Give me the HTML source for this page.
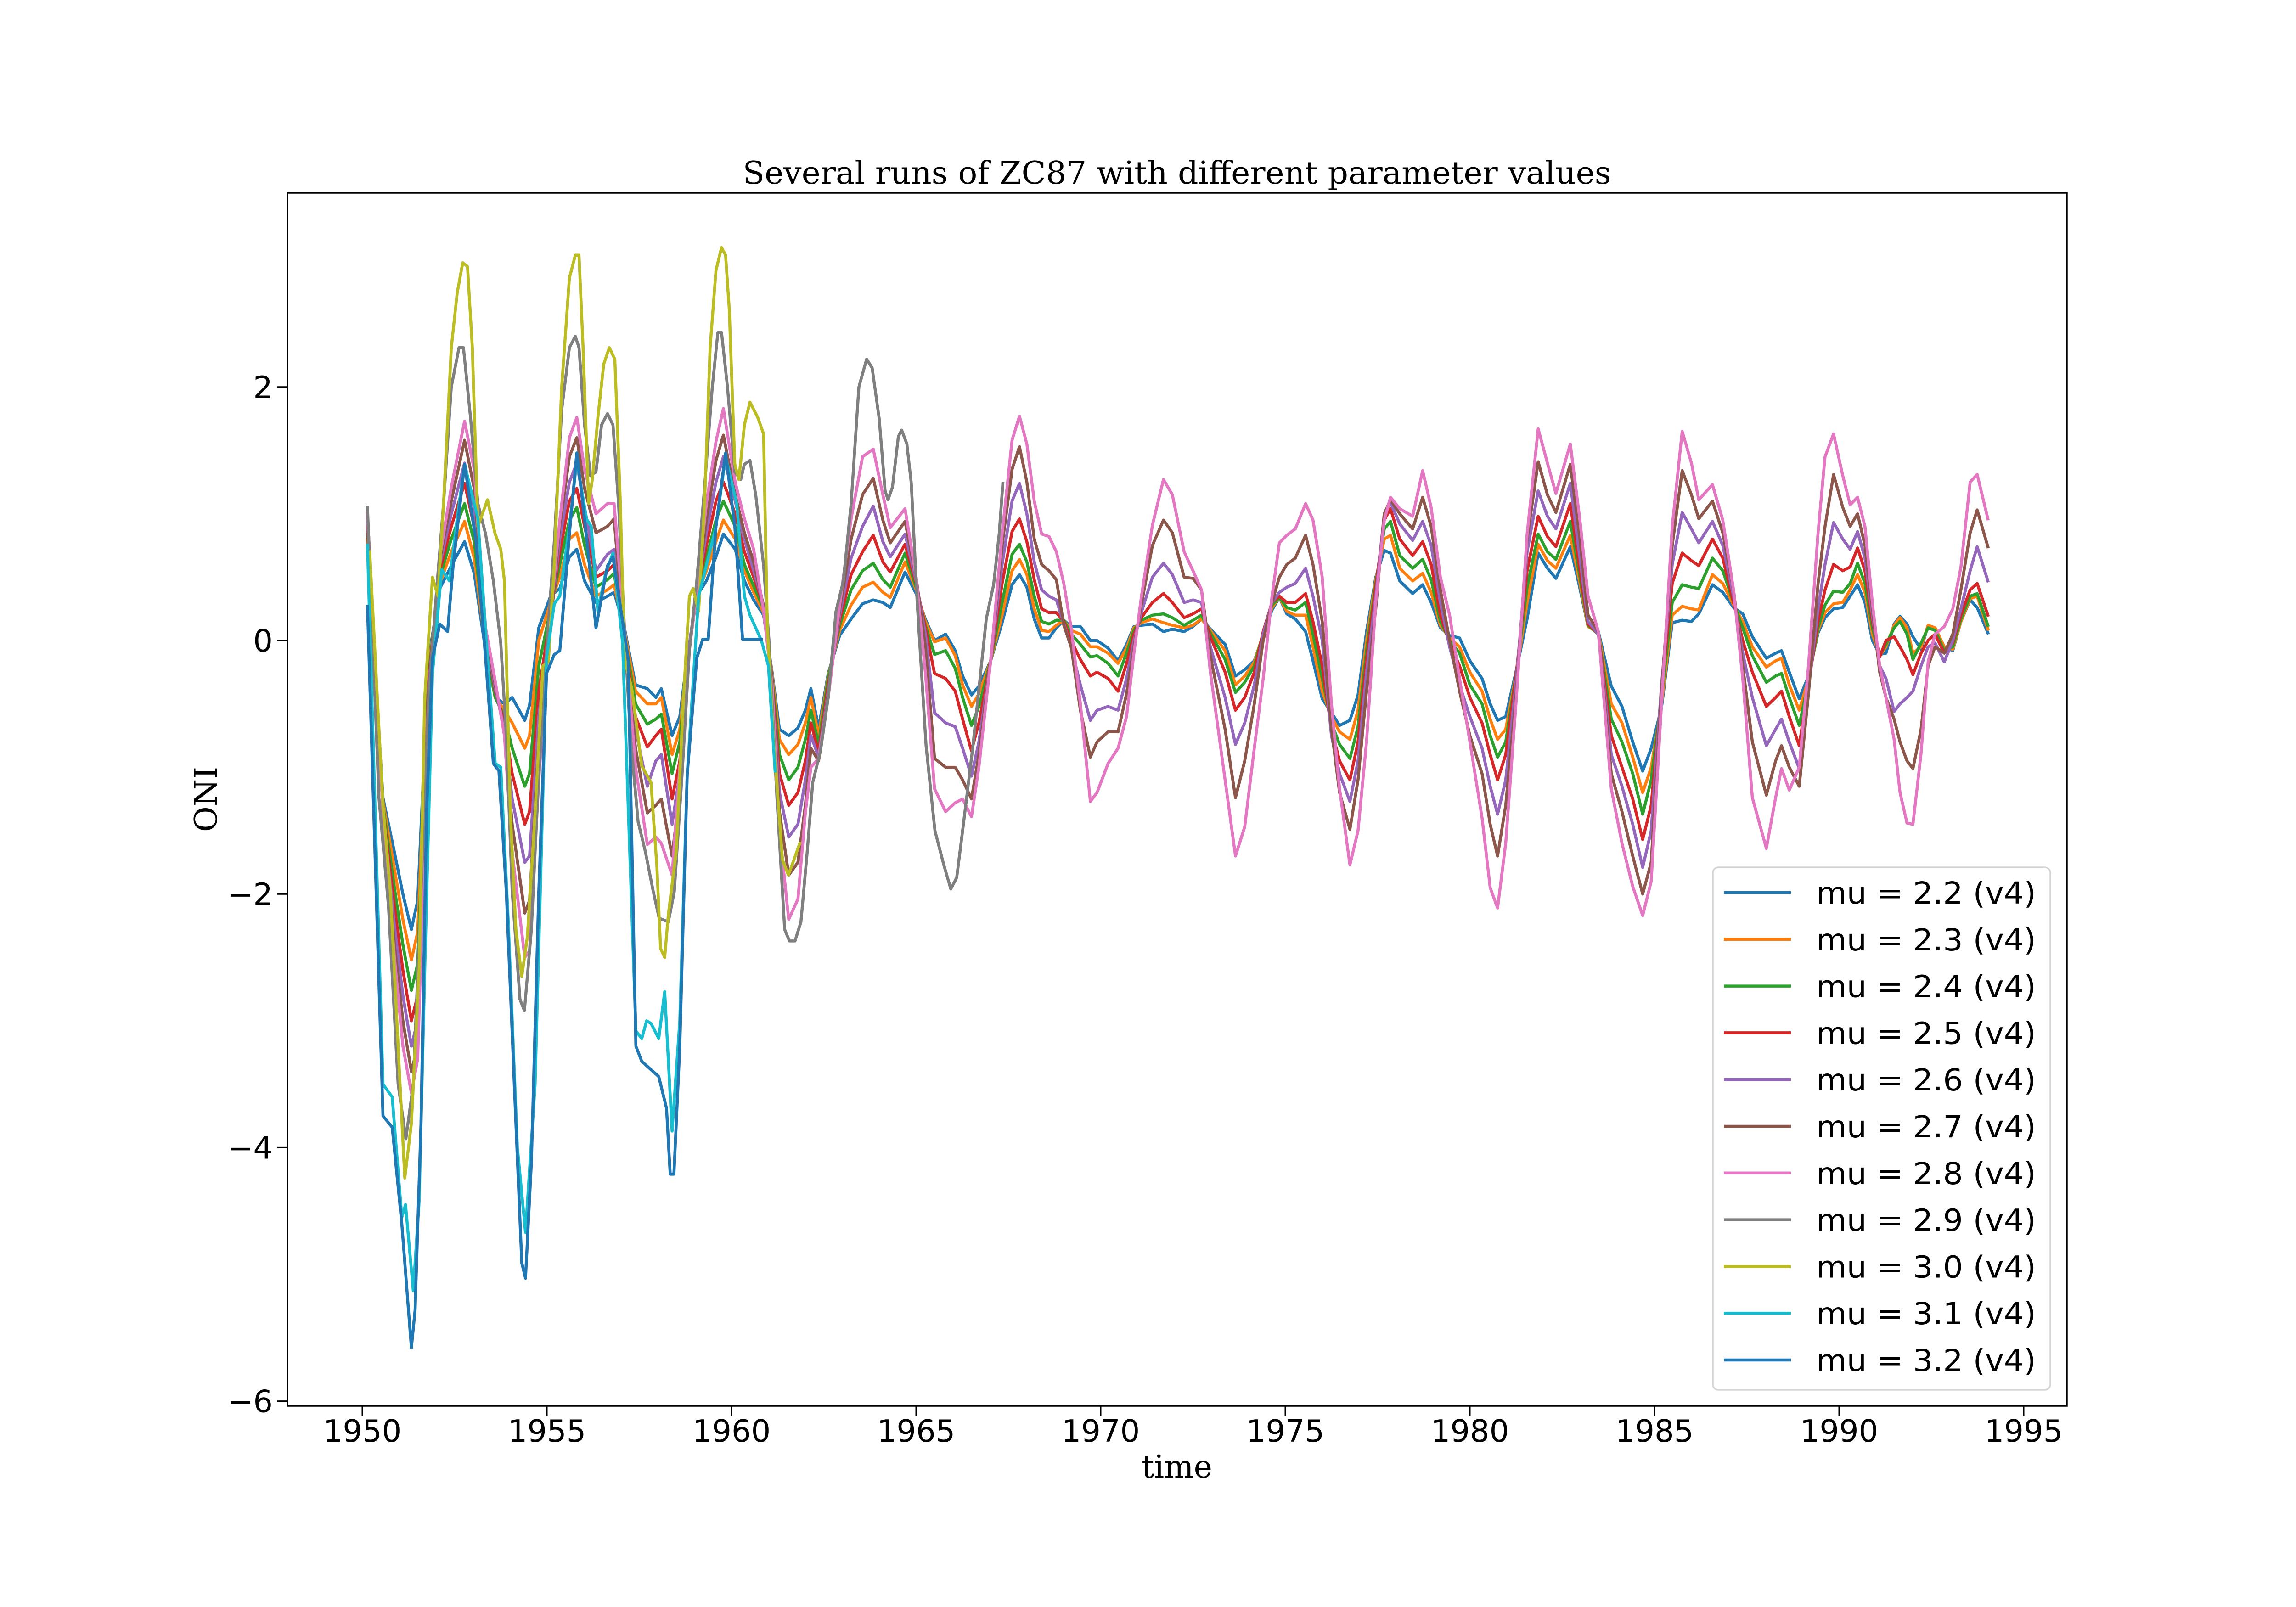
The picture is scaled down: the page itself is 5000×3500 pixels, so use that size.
<!DOCTYPE html>
<html><head><meta charset="utf-8"><title>Several runs of ZC87</title>
<style>html,body{margin:0;padding:0;background:#fff}svg{display:block}</style></head>
<body>
<svg id="chart" xmlns="http://www.w3.org/2000/svg" width="5000" height="3500" viewBox="0 0 5000 3500">
<rect x="0" y="0" width="5000" height="3500" fill="#fff"/>
<defs><clipPath id="plotclip"><rect x="626" y="420" width="3875" height="2642"/></clipPath></defs>
<text x="2563" y="400" text-anchor="middle" font-family="'DejaVu Serif','Liberation Serif',serif" font-size="68" textLength="1891" lengthAdjust="spacingAndGlyphs">Several runs of ZC87 with different parameter values</text>
<g id="plot" clip-path="url(#plotclip)"></g>
<rect x="626" y="420" width="3875" height="2642" fill="none" stroke="#000" stroke-width="3.5"/>
<g id="xticks"></g>
<g id="yticks"></g>
<text x="2563" y="3218" text-anchor="middle" font-family="'DejaVu Serif','Liberation Serif',serif" font-size="68">time</text>
<text x="0" y="0" transform="translate(472,1741) rotate(-90)" text-anchor="middle" font-family="'DejaVu Serif','Liberation Serif',serif" font-size="68">ONI</text>
<g id="legend"></g>
</svg>
<script>
const NS="http://www.w3.org/2000/svg";
const xTicks=[1950,1955,1960,1965,1970,1975,1980,1985,1990,1995];
const yTicks=[-6,-4,-2,0,2];
const seriesLabels=["mu = 2.2 (v4)","mu = 2.3 (v4)","mu = 2.4 (v4)","mu = 2.5 (v4)","mu = 2.6 (v4)","mu = 2.7 (v4)","mu = 2.8 (v4)","mu = 2.9 (v4)","mu = 3.0 (v4)","mu = 3.1 (v4)","mu = 3.2 (v4)"];
const seriesColors=["#1f77b4","#ff7f0e","#2ca02c","#d62728","#9467bd","#8c564b","#e377c2","#7f7f7f","#bcbd22","#17becf","#1f77b4"];
const tMain=[1950.14,1950.56,1950.87,1951.1,1951.33,1951.5,1951.8,1952.1,1952.41,1952.77,
1953.03,1953.34,1953.6,1953.85,1954.06,1954.4,1954.53,1954.78,1955.1,1955.35,
1955.61,1955.81,1956.02,1956.33,1956.64,1956.82,1957.1,1957.4,1957.72,1957.95,
1958.1,1958.39,1958.6,1958.8,1959.06,1959.32,1959.58,1959.78,1960.1,1960.35,
1960.6,1960.87,1961.1,1961.3,1961.55,1961.8,1962.0,1962.15,1962.36,1962.62,
1962.93,1963.24,1963.55,1963.84,1964.1,1964.3,1964.7,1965.0,1965.25,1965.5,
1965.8,1966.06,1966.26,1966.5,1966.7,1967.02,1967.33,1967.6,1967.8,1968.0,
1968.2,1968.4,1968.6,1968.8,1969.0,1969.2,1969.45,1969.72,1969.9,1970.2,
1970.47,1970.7,1970.9,1971.1,1971.4,1971.7,1971.94,1972.26,1972.5,1972.73,
1972.97,1973.37,1973.65,1973.9,1974.16,1974.4,1974.64,1974.84,1975.04,1975.27,
1975.55,1975.75,1976.0,1976.25,1976.47,1976.75,1976.97,1977.2,1977.45,1977.68,
1977.85,1978.1,1978.45,1978.72,1978.95,1979.2,1979.45,1979.72,1980.0,1980.33,
1980.55,1980.75,1980.97,1981.26,1981.55,1981.85,1982.1,1982.33,1982.72,1982.98,
1983.2,1983.48,1983.83,1984.12,1984.41,1984.68,1984.91,1985.19,1985.48,1985.75,
1986.0,1986.2,1986.57,1986.85,1987.14,1987.39,1987.65,1988.03,1988.28,1988.44,
1988.65,1988.92,1989.17,1989.43,1989.62,1989.85,1990.1,1990.3,1990.5,1990.7,
1990.9,1991.1,1991.27,1991.49,1991.65,1991.84,1992.0,1992.22,1992.41,1992.6,
1992.85,1993.08,1993.3,1993.55,1993.74,1994.03];
const s22=[.75,-1.24,-1.67,-2.0,-2.28,-2.05,-.14,.41,.59,.78,
.53,-.08,-.45,-.5,-.45,-.63,-.51,.1,.35,.41,
.66,.72,.47,.3,.35,.38,.1,-.35,-.38,-.45,
-.38,-.75,-.6,-.14,.35,.47,.66,.84,.72,.47,
.32,.2,-.25,-.7,-.75,-.69,-.55,-.38,-.69,-.26,
.04,.17,.29,.32,.3,.26,.54,.37,.17,0,
.05,-.08,-.28,-.43,-.36,-.16,.14,.44,.52,.42,
.17,.02,.02,.1,.16,.11,.11,0,0,-.06,
-.16,-.03,.11,.12,.13,.07,.09,.07,.11,.17,
.09,-.03,-.28,-.23,-.16,.04,.24,.34,.21,.17,
.07,-.16,-.46,-.57,-.67,-.63,-.43,.07,.5,.71,
.69,.47,.37,.44,.3,.1,.04,.02,-.16,-.3,
-.5,-.63,-.6,-.23,.17,.69,.57,.49,.74,.41,
.11,.07,-.36,-.52,-.8,-1.03,-.85,-.53,.14,.16,
.15,.21,.44,.38,.26,.21,.03,-.14,-.1,-.08,
-.25,-.46,-.28,.06,.18,.25,.26,.35,.44,.3,
0,-.11,-.1,.13,.19,.13,.03,-.07,.12,.1,
-.05,-.08,.15,.32,.26,.06];
const s23=[.8,-1.27,-1.8,-2.2,-2.52,-2.3,-.2,.45,.7,.94,
.65,-.05,-.45,-.55,-.65,-.85,-.75,0,.3,.5,
.8,.85,.6,.35,.4,.44,.08,-.4,-.5,-.5,
-.45,-.9,-.7,-.15,.35,.55,.78,.95,.8,.55,
.38,.22,-.27,-.78,-.9,-.82,-.65,-.45,-.75,-.28,
.08,.28,.42,.46,.38,.34,.62,.4,.15,-.01,
.02,-.12,-.35,-.52,-.42,-.16,.2,.55,.64,.52,
.25,.08,.07,.12,.16,.08,.05,-.05,-.05,-.1,
-.18,-.06,.1,.14,.17,.14,.12,.1,.12,.17,
.08,-.08,-.35,-.28,-.17,.05,.26,.34,.23,.2,
.2,-.05,-.4,-.6,-.72,-.78,-.55,0,.48,.8,
.83,.57,.47,.53,.38,.12,.02,-.05,-.25,-.4,
-.62,-.78,-.7,-.25,.3,.76,.63,.57,.83,.45,
.11,.06,-.5,-.65,-.92,-1.2,-1.0,-.5,.2,.27,
.25,.24,.52,.45,.28,.15,-.05,-.21,-.16,-.14,
-.35,-.55,-.3,.08,.22,.29,.3,.4,.52,.38,
.05,-.12,-.05,.12,.18,.1,-.1,-.05,.12,.1,
-.05,-.07,.15,.33,.35,.09];
const s24=[.85,-1.3,-1.95,-2.4,-2.76,-2.55,-.25,.5,.8,1.08,
.78,-.02,-.45,-.6,-.85,-1.15,-1.05,-.2,.25,.6,
.95,1.05,.75,.42,.48,.53,.05,-.5,-.66,-.62,
-.58,-1.05,-.8,-.15,.35,.65,.95,1.1,.9,.6,
.43,.25,-.3,-.9,-1.1,-1.0,-.78,-.55,-.82,-.3,
.12,.4,.55,.61,.48,.42,.69,.42,.12,-.11,
-.08,-.22,-.45,-.67,-.52,-.16,.3,.68,.76,.62,
.35,.15,.13,.16,.16,.05,-.03,-.13,-.12,-.18,
-.28,-.1,.08,.16,.2,.21,.18,.12,.16,.2,
.06,-.15,-.41,-.33,-.2,.06,.28,.34,.26,.24,
.3,.05,-.3,-.65,-.82,-.93,-.68,-.08,.45,.88,
.94,.67,.57,.64,.48,.15,0,-.1,-.35,-.5,
-.75,-.92,-.8,-.25,.42,.84,.7,.64,.94,.5,
.12,.05,-.62,-.8,-1.05,-1.37,-1.1,-.45,.3,.44,
.42,.41,.65,.55,.3,.1,-.12,-.33,-.28,-.26,
-.45,-.67,-.32,.1,.28,.39,.38,.45,.61,.45,
.1,-.12,-.03,.1,.15,.05,-.15,-.02,.1,.08,
-.08,-.05,.17,.35,.37,.12];
const s25=[.9,-1.32,-2.1,-2.6,-3.0,-2.8,-.3,.55,.9,1.24,
.9,.02,-.4,-.65,-1.05,-1.45,-1.35,-.4,.2,.7,
1.1,1.2,.9,.5,.55,.6,.02,-.6,-.84,-.75,
-.7,-1.25,-.95,-.15,.37,.75,1.1,1.25,1.0,.7,
.5,.27,-.32,-1.05,-1.3,-1.2,-.95,-.65,-.88,-.35,
.16,.52,.7,.83,.62,.54,.76,.45,.1,-.26,
-.3,-.4,-.62,-.87,-.65,-.16,.45,.86,.96,.78,
.48,.25,.22,.22,.15,0,-.15,-.28,-.25,-.3,
-.4,-.18,.05,.18,.3,.37,.3,.18,.21,.25,
.03,-.25,-.55,-.45,-.25,.07,.3,.35,.3,.3,
.37,.15,-.2,-.7,-.95,-1.1,-.8,-.15,.42,.95,
1.04,.8,.67,.78,.6,.2,-.02,-.2,-.45,-.65,
-.9,-1.1,-.9,-.25,.55,.98,.82,.74,1.08,.55,
.13,.05,-.75,-1.0,-1.25,-1.57,-1.3,-.4,.45,.69,
.63,.59,.8,.65,.3,0,-.25,-.52,-.45,-.4,
-.6,-.83,-.35,.15,.4,.6,.55,.58,.73,.55,
.15,-.13,0,.03,-.05,-.15,-.27,-.1,0,.05,
-.1,-.02,.2,.4,.45,.2];
const s26=[.95,-1.34,-2.25,-2.8,-3.2,-3.0,-.35,.6,1.0,1.4,
1.05,.05,-.38,-.7,-1.25,-1.75,-1.7,-.6,.15,.8,
1.25,1.4,1.05,.55,.68,.72,0,-.7,-1.15,-.95,
-.9,-1.45,-1.05,-.15,.38,.85,1.25,1.45,1.1,.8,
.55,.28,-.34,-1.2,-1.55,-1.45,-1.1,-.75,-.92,-.4,
.2,.65,.9,1.06,.78,.66,.84,.47,.05,-.57,
-.65,-.68,-.85,-1.07,-.8,-.16,.6,1.1,1.24,1.0,
.62,.4,.35,.32,.13,-.05,-.35,-.63,-.55,-.52,
-.55,-.3,0,.22,.5,.61,.52,.3,.32,.3,
-.05,-.45,-.82,-.65,-.35,.05,.3,.38,.42,.45,
.57,.35,0,-.75,-1.05,-1.27,-.95,-.25,.35,1.0,
1.09,.92,.79,.94,.75,.3,-.05,-.35,-.6,-.85,
-1.15,-1.37,-1.1,-.3,.7,1.18,.98,.88,1.24,.65,
.15,.05,-.9,-1.15,-1.45,-1.79,-1.5,-.35,.6,1.01,
.88,.77,.94,.75,.35,-.1,-.45,-.83,-.7,-.62,
-.8,-1.01,-.38,.25,.6,.93,.8,.72,.86,.65,
.2,-.2,-.3,-.56,-.5,-.45,-.4,-.2,-.05,-.02,
-.17,0,.25,.55,.74,.47];
const s27=[1.0,-1.35,-2.4,-3.0,-3.4,-3.2,-.4,.64,1.1,1.58,
1.2,.08,-.35,-.73,-1.45,-2.15,-2.05,-.8,.12,.9,
1.45,1.6,1.2,.85,.9,.96,0,-.85,-1.36,-1.3,
-1.25,-1.7,-1.2,-.2,.38,.95,1.42,1.62,1.15,.85,
.62,.27,-.3,-1.35,-1.85,-1.75,-1.3,-.85,-.95,-.42,
.24,.8,1.15,1.28,.95,.77,.94,.5,-.05,-.93,
-1.0,-1.0,-1.1,-1.25,-.9,-.16,.75,1.35,1.53,1.25,
.8,.6,.55,.48,.12,-.05,-.55,-.92,-.8,-.72,
-.72,-.42,-.05,.28,.75,.95,.85,.5,.49,.4,
-.12,-.7,-1.24,-.95,-.5,0,.3,.5,.6,.65,
.83,.6,.15,-.7,-1.2,-1.49,-1.1,-.4,.25,1.0,
1.11,1.0,.88,1.13,.9,.4,0,-.4,-.75,-1.05,
-1.45,-1.7,-1.3,-.4,.8,1.41,1.15,1.01,1.39,.8,
.2,.07,-1.05,-1.35,-1.7,-2.0,-1.75,-.4,.75,1.34,
1.15,.96,1.1,.85,.4,-.2,-.8,-1.22,-.95,-.83,
-1.0,-1.15,-.42,.45,.9,1.31,1.05,.9,1.0,.75,
.25,-.25,-.45,-.62,-.8,-.95,-1.01,-.7,-.2,-.05,
-.1,.05,.4,.85,1.03,.74];
const s28=[1.0,-1.36,-2.5,-3.2,-3.57,-3.3,-.45,.66,1.21,1.73,
1.35,.1,-.32,-.75,-1.67,-2.5,-2.45,-1.1,.2,.95,
1.6,1.76,1.35,1.0,1.08,1.08,.1,-1.0,-1.61,-1.55,
-1.6,-1.85,-1.0,-.2,.38,1.08,1.57,1.83,1.25,.96,
.72,.23,-.35,-1.5,-2.2,-2.04,-1.36,-1.0,-.93,-.45,
.28,.96,1.45,1.51,1.15,.89,1.04,.5,-.25,-1.17,
-1.35,-1.28,-1.25,-1.39,-1.0,-.16,.84,1.58,1.77,1.55,
1.1,.84,.82,.7,.45,.1,-.5,-1.27,-1.2,-.97,
-.85,-.6,-.1,.34,.91,1.27,1.15,.7,.55,.4,
-.25,-1.1,-1.7,-1.47,-.85,-.3,.35,.77,.83,.88,
1.08,.95,.5,-.5,-1.17,-1.77,-1.5,-.8,.3,.95,
1.13,1.04,.98,1.34,1.05,.5,.2,-.3,-.8,-1.4,
-1.95,-2.11,-1.6,-.45,.84,1.67,1.4,1.16,1.55,.95,
.35,.07,-1.17,-1.6,-1.94,-2.17,-1.9,-.5,.9,1.65,
1.4,1.11,1.23,.95,.4,-.3,-1.24,-1.64,-1.24,-1.01,
-1.18,-1.0,-.2,.85,1.45,1.63,1.3,1.07,1.13,.9,
.3,-.2,-.45,-.78,-1.2,-1.44,-1.45,-.89,-.17,.05,
.11,.25,.58,1.25,1.31,.96];
const s29=[[1950.14,1.05],[1950.45,-1.24],[1950.71,-2.1],[1950.97,-3.5],[1951.18,-3.93],[1951.38,-3.5],[1951.59,-1.98],[1951.8,-.45],[1952.0,.35],[1952.2,1.08],[1952.41,2.0],[1952.62,2.31],[1952.74,2.31],[1952.93,1.76],[1953.13,1.08],[1953.34,.84],[1953.55,.47],[1953.75,-.02],[1953.9,-.75],[1954.06,-1.98],[1954.27,-2.83],[1954.39,-2.92],[1954.58,-2.28],[1954.78,-1.06],[1954.99,-.08],[1955.2,.78],[1955.4,1.82],[1955.61,2.31],[1955.77,2.4],[1955.87,2.31],[1956.02,1.7],[1956.18,1.3],[1956.33,1.33],[1956.48,1.7],[1956.64,1.79],[1956.79,1.7],[1956.94,1.08],[1957.1,.1],[1957.26,-.75],[1957.47,-1.43],[1957.67,-1.67],[1957.88,-1.98],[1958.04,-2.19],[1958.29,-2.22],[1958.45,-1.98],[1958.66,-1.06],[1958.86,-.08],[1959.06,.47],[1959.27,1.21],[1959.48,2.0],[1959.63,2.43],[1959.73,2.43],[1959.89,2.0],[1960.09,1.33],[1960.25,1.27],[1960.35,1.39],[1960.5,1.42],[1960.66,1.14],[1960.87,.59],[1961.02,-.02],[1961.23,-1.24],[1961.44,-2.28],[1961.57,-2.37],[1961.72,-2.37],[1961.88,-2.22],[1962.05,-1.67],[1962.2,-1.12],[1962.41,-.87],[1962.62,-.45],[1962.83,.23],[1963.03,.47],[1963.24,1.08],[1963.45,2.0],[1963.66,2.22],[1963.81,2.15],[1964.0,1.75],[1964.16,1.18],[1964.24,1.11],[1964.36,1.21],[1964.52,1.61],[1964.61,1.66],[1964.75,1.55],[1964.87,1.24],[1965.03,.3],[1965.27,-.83],[1965.51,-1.5],[1965.75,-1.77],[1965.94,-1.96],[1966.1,-1.87],[1966.26,-1.5],[1966.54,-.83],[1966.9,.17],[1967.1,.44],[1967.25,.84],[1967.35,1.24]];
const s30=[[1950.2,.7],[1950.56,-1.3],[1950.76,-1.98],[1950.97,-3.2],[1951.15,-4.24],[1951.33,-3.81],[1951.54,-2.59],[1951.69,-.45],[1951.9,.5],[1952.05,.35],[1952.2,1.08],[1952.41,2.31],[1952.57,2.74],[1952.72,2.98],[1952.85,2.95],[1952.98,2.31],[1953.13,.9],[1953.39,1.11],[1953.6,.84],[1953.75,.72],[1953.85,.47],[1954.01,-1.36],[1954.16,-2.28],[1954.32,-2.65],[1954.47,-2.34],[1954.68,-1.36],[1954.89,-.2],[1955.04,-.17],[1955.2,.6],[1955.4,2.0],[1955.61,2.86],[1955.77,3.04],[1955.87,3.04],[1955.98,2.31],[1956.13,1.08],[1956.23,1.27],[1956.38,1.76],[1956.54,2.18],[1956.69,2.31],[1956.84,2.22],[1956.99,1.08],[1957.1,-.14],[1957.3,-.38],[1957.57,-.99],[1957.82,-1.12],[1957.98,-1.79],[1958.08,-2.43],[1958.19,-2.5],[1958.29,-2.16],[1958.5,-1.67],[1958.7,-.45],[1958.86,.35],[1958.96,.41],[1959.11,.23],[1959.27,1.08],[1959.42,2.31],[1959.58,2.92],[1959.73,3.1],[1959.84,3.04],[1959.94,2.61],[1960.09,1.39],[1960.2,1.27],[1960.35,1.7],[1960.5,1.88],[1960.71,1.76],[1960.87,1.63],[1960.97,.1],[1961.13,-.75],[1961.38,-1.73],[1961.54,-1.85],[1961.69,-1.73],[1961.85,-1.6]];
const s31=[[1950.14,.75],[1950.56,-3.5],[1950.81,-3.6],[1951.07,-4.55],[1951.17,-4.45],[1951.38,-5.13],[1951.54,-4.42],[1951.7,-2.5],[1951.9,-.26],[1952.15,.56],[1952.36,.47],[1952.57,.96],[1952.77,1.39],[1953.13,.96],[1953.39,-.14],[1953.6,-.97],[1953.75,-1.0],[1953.95,-2.2],[1954.2,-4.0],[1954.42,-4.67],[1954.68,-3.5],[1954.99,-.14],[1955.2,.29],[1955.35,.35],[1955.61,.9],[1955.81,1.42],[1956.07,.96],[1956.2,.9],[1956.38,.23],[1956.59,.53],[1956.79,.69],[1957.05,-.02],[1957.41,-3.08],[1957.57,-3.14],[1957.7,-3.0],[1957.82,-3.02],[1958.03,-3.14],[1958.19,-2.77],[1958.39,-3.87],[1958.6,-3.0],[1958.8,-1.06],[1959.11,.35],[1959.32,.59],[1959.58,.9],[1959.84,1.45],[1960.14,1.08],[1960.35,.35],[1960.5,.2],[1960.81,0],[1961.0,-.2],[1961.18,-1.03]];
const s32=[[1950.14,.27],[1950.56,-3.75],[1950.81,-3.84],[1951.07,-4.6],[1951.33,-5.58],[1951.43,-5.28],[1951.59,-3.81],[1951.74,-1.36],[1951.9,-.14],[1952.1,.13],[1952.31,.07],[1952.46,.59],[1952.77,1.39],[1953.08,.78],[1953.34,-.14],[1953.55,-.97],[1953.7,-1.03],[1953.9,-1.98],[1954.16,-3.81],[1954.32,-4.91],[1954.42,-5.03],[1954.58,-4.12],[1954.78,-1.98],[1954.99,-.26],[1955.2,-.11],[1955.35,-.08],[1955.61,.84],[1955.81,1.48],[1956.02,.96],[1956.33,.1],[1956.64,.59],[1956.79,.66],[1957.2,-.14],[1957.41,-3.2],[1957.57,-3.32],[1957.8,-3.38],[1958.03,-3.44],[1958.24,-3.69],[1958.34,-4.21],[1958.44,-4.21],[1958.6,-3.2],[1958.8,-1.06],[1959.06,-.14],[1959.22,.01],[1959.37,.01],[1959.58,.9],[1959.84,1.48],[1960.09,.9],[1960.3,.01],[1960.81,.01]];

function xS(t){return 789+(t-1950)*80.4;}
function yS(v){return 1395-v*276.1;}

const plot=document.getElementById('plot');
const mainSeries=[s22,s23,s24,s25,s26,s27,s28];
const allPts=[];
mainSeries.forEach(function(vals){
  const pts=[];
  for(let i=0;i<Math.min(vals.length,tMain.length);i++){pts.push([tMain[i],vals[i]]);}
  allPts.push(pts);
});
allPts.push(s29,s30,s31,s32);
allPts.forEach(function(pts,k){
  const pl=document.createElementNS(NS,'polyline');
  pl.setAttribute('points',pts.map(function(p){return xS(p[0]).toFixed(1)+','+yS(p[1]).toFixed(1);}).join(' '));
  pl.setAttribute('fill','none');
  pl.setAttribute('stroke',seriesColors[k]);
  pl.setAttribute('stroke-width','6.5');
  pl.setAttribute('stroke-linejoin','round');
  pl.setAttribute('stroke-linecap','square');
  
  
  plot.appendChild(pl);
});

const xg=document.getElementById('xticks');
xTicks.forEach(function(t){
  const x=xS(t);
  const ln=document.createElementNS(NS,'line');
  ln.setAttribute('x1',x);ln.setAttribute('x2',x);ln.setAttribute('y1',3062);ln.setAttribute('y2',3084);
  ln.setAttribute('stroke','#000');ln.setAttribute('stroke-width','3');
  
  
  xg.appendChild(ln);
  const tx=document.createElementNS(NS,'text');
  tx.setAttribute('x',x);tx.setAttribute('y',3140);
  tx.setAttribute('text-anchor','middle');
  tx.setAttribute('font-family',"'DejaVu Sans','Liberation Sans',sans-serif");
  tx.setAttribute('font-size','67');
  tx.textContent=String(t);
  
  
  xg.appendChild(tx);
});
const yg=document.getElementById('yticks');
yTicks.forEach(function(v){
  const y=yS(v);
  const ln=document.createElementNS(NS,'line');
  ln.setAttribute('x1',604);ln.setAttribute('x2',626);ln.setAttribute('y1',y);ln.setAttribute('y2',y);
  ln.setAttribute('stroke','#000');ln.setAttribute('stroke-width','3');
  
  
  yg.appendChild(ln);
  const tx=document.createElementNS(NS,'text');
  tx.setAttribute('x',594);tx.setAttribute('y',y+24);
  tx.setAttribute('text-anchor','end');
  tx.setAttribute('font-family',"'DejaVu Sans','Liberation Sans',sans-serif");
  tx.setAttribute('font-size','67');
  tx.textContent=(v<0?'\u2212'+Math.abs(v):String(v));
  
  
  yg.appendChild(tx);
});

const lg=document.getElementById('legend');
const frame=document.createElementNS(NS,'rect');
frame.setAttribute('x',3730);frame.setAttribute('y',1889);frame.setAttribute('width',735);frame.setAttribute('height',1138);
frame.setAttribute('rx',12);frame.setAttribute('fill','#fff');frame.setAttribute('fill-opacity','0.8');
frame.setAttribute('stroke','#d5d5d5');frame.setAttribute('stroke-width','3.5');


lg.appendChild(frame);
seriesLabels.forEach(function(lab,i){
  const y=1944+i*101.8;
  const g=document.createElementNS(NS,'g');
  
  
  const ln=document.createElementNS(NS,'line');
  ln.setAttribute('x1',3754);ln.setAttribute('x2',3900);ln.setAttribute('y1',y);ln.setAttribute('y2',y);
  ln.setAttribute('stroke',seriesColors[i]);ln.setAttribute('stroke-width','6.5');
  
  
  g.appendChild(ln);
  const tx=document.createElementNS(NS,'text');
  tx.setAttribute('x',3955);tx.setAttribute('y',y+24);
  tx.setAttribute('font-family',"'DejaVu Sans','Liberation Sans',sans-serif");
  tx.setAttribute('font-size','66');
  tx.setAttribute('textLength','479');
  tx.setAttribute('lengthAdjust','spacingAndGlyphs');
  tx.textContent=lab;
  
  
  g.appendChild(tx);
  lg.appendChild(g);
});
</script>
</body></html>
